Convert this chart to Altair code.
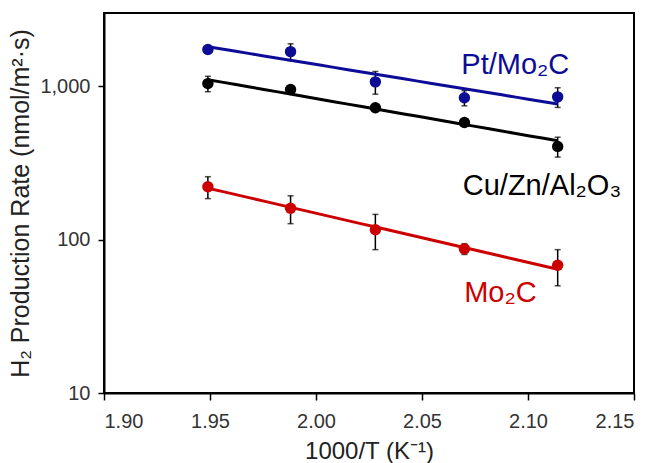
import altair as alt
import pandas as pd

# Inverse temperature (1000/T, K^-1) for T = 513, 503, 493, 483, 473 K
inv_t = [1.949, 1.988, 2.028, 2.070, 2.114]

# H2 production rates (nmol/m^2/s) and their uncertainties
pt_mo2c = [1734, 1680, 1067, 840, 852]
pt_mo2c_err = [30, 210, 180, 95, 125]
cuznal = [1040, 951, 723, 580, 405]
cuznal_err = [120, 20, 20, 20, 60]
mo2c = [221, 160, 116, 87, 68]
mo2c_err = [36, 33, 30, 7, 18]

series_names = ["Pt/Mo₂C", "Cu/Zn/Al₂O₃", "Mo₂C"]
series_colors = ["#0c0c96", "#000000", "#cc0000"]

rows = []
for name, vals, errs in zip(series_names, [pt_mo2c, cuznal, mo2c],
                            [pt_mo2c_err, cuznal_err, mo2c_err]):
    for xv, yv, ev in zip(inv_t, vals, errs):
        rows.append({"series": name, "x": xv, "y": yv, "lo": yv - ev, "hi": yv + ev})
df = pd.DataFrame(rows)

# Series label anchors (data coordinates)
label_x = [2.094, 2.1066, 2.087]
label_y = [1371, 225, 45]
labels = pd.DataFrame({"series": series_names, "x": label_x, "y": label_y})

FONT = "Liberation Sans"

x_scale = alt.Scale(domain=[1.90, 2.15], nice=False, zero=False)
y_scale = alt.Scale(type="log", domain=[10, 3000], nice=False)
color_scale = alt.Scale(domain=series_names, range=series_colors)

x_enc = alt.X(
    "x:Q", scale=x_scale,
    axis=alt.Axis(title="1000/T (K⁻¹)", values=[1.90, 1.95, 2.00, 2.05, 2.10, 2.15],
                  format=".2f", grid=False, tickSize=7, labelPadding=11,
                  titlePadding=8),
)
y_enc = alt.Y(
    "y:Q", scale=y_scale,
    axis=alt.Axis(title="H₂ Production Rate (nmol/m²·s)", values=[10, 100, 1000],
                  format=",", grid=False, tickSize=6, labelPadding=8,
                  titlePadding=6, titleFontSize=25),
)
color_enc = alt.Color("series:N", scale=color_scale, legend=None)

base = alt.Chart(df)

err_rule = base.mark_rule(color="black", strokeWidth=1.5).encode(
    x=x_enc, y=alt.Y("lo:Q", scale=y_scale), y2="hi:Q"
)
cap_lo = base.mark_tick(color="black", orient="horizontal", size=6, thickness=1.5).encode(
    x=x_enc, y=alt.Y("lo:Q", scale=y_scale)
)
cap_hi = base.mark_tick(color="black", orient="horizontal", size=6, thickness=1.5).encode(
    x=x_enc, y=alt.Y("hi:Q", scale=y_scale)
)

fit = base.transform_regression(
    "x", "y", method="exp", groupby=["series"], extent=[inv_t[0], inv_t[-1]]
).mark_line(strokeWidth=3).encode(x=x_enc, y=y_enc, color=color_enc)

points = base.mark_circle(size=130, opacity=1).encode(x=x_enc, y=y_enc, color=color_enc)

text = alt.Chart(labels).mark_text(font=FONT, fontSize=29, align="center",
                                   baseline="middle").encode(
    x=alt.X("x:Q", scale=x_scale), y=alt.Y("y:Q", scale=y_scale),
    text="series:N", color=color_enc
)

chart = alt.layer(err_rule, cap_lo, cap_hi, fit, points, text).properties(
    width=530, height=380,
    autosize=alt.AutoSizeParams(type="none"),
    padding={"left": 104, "top": 13, "right": 25, "bottom": 70},
).configure_view(
    stroke="black", strokeWidth=2
).configure_axis(
    domainColor="black", domainWidth=2, tickColor="black", tickWidth=1.5,
    labelFont=FONT, labelFontSize=20, labelColor="#333333",
    titleFont=FONT, titleFontSize=24, titleColor="#222222", titleFontWeight="normal",
)

chart.save("out.html", embed_options={"renderer": "svg", "actions": False})
